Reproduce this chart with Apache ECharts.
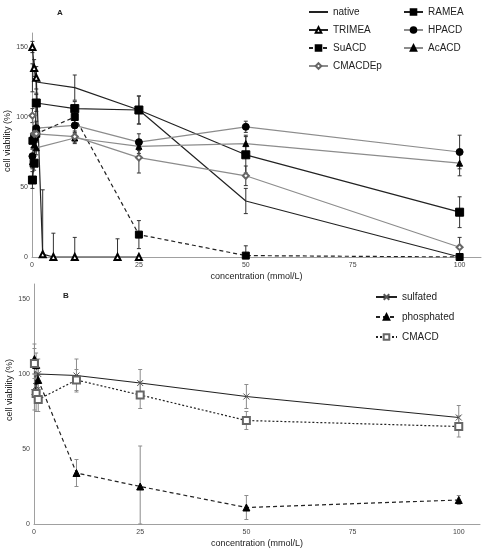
<!DOCTYPE html>
<html>
<head>
<meta charset="utf-8">
<script src="https://cdn.jsdelivr.net/npm/echarts@6/dist/echarts.min.js"></script>
<style>
  html, body { margin: 0; padding: 0; background: #fff; }
  #chart { width: 485px; height: 550px; }
</style>
</head>
<body>
<div id="chart"></div>
<script>
// panel A data (x in mmol/L, y in % viability, err = +/- bar)
const xA = [0.1, 0.5, 1, 10, 25, 50, 100];
const nativeX = [0.1, 1, 10, 25, 50, 100];
const nativeY = [128, 125, 121, 105, 40, 0];
const nativeErr = [10, 8, 9, 10, 9, 0];
const trimeaX = [0.1, 0.5, 1, 2.5, 5, 10, 20, 25];
const trimeaY = [150, 135, 128, 2, 0, 0, 0, 0];
const trimeaErr = [4, 6, 8, 46, 17, 14, 13, 0];
const rameaY = [55, 67, 110, 106, 105, 73, 32];
const rameaErr = [6, 5, 6, 5, 10, 13, 11];
const suacdY = [83, 86, 88, 100, 16, 1, 0];
const suacdErr = [5, 5, 6, 6, 10, 7, 0];
const hpacdY = [72, 84, 92, 94, 82, 93, 75];
const hpacdErr = [5, 5, 5, 6, 6, 4, 12];
const acacdY = [68, 80, 78, 85, 79, 81, 67];
const acacdErr = [5, 5, 5, 4, 5, 6, 9];
const cmacdepY = [101, 88, 88, 86, 71, 58, 7];
const cmacdepErr = [5, 5, 5, 4, 11, 7, 7];

// panel B data
const xB = [0.1, 0.5, 1, 10, 25, 50, 100];
const sulfatedY = [88, 92, 100, 99, 94, 85, 71];
const sulfatedErr = [12, 8, 10, 11, 9, 8, 8];
const phosphatedY = [110, 106, 96, 34, 25, 11, 16];
const phosphatedErr = [10, 8, 8, 9, 27, 8, 3];
const cmacdY = [107, 87, 83, 96, 86, 69, 65];
const cmacdErr = [10, 12, 8, 7, 9, 6, 7];

const xTicks = [0, 25, 50, 75, 100];
const yTicks = [0, 50, 100, 150];

const font = 'Liberation Sans, Arial, sans-serif';
const grey = '#8c8c8c';

function pairs(xs, ys) {
  return xs.map((x, i) => [x, ys[i]]);
}

function errData(xs, ys, errs) {
  return xs.map((x, i) => [x, ys[i], Math.max(0, ys[i] - errs[i]), ys[i] + errs[i]]);
}

function errSeries(xs, ys, errs, gridIdx, color) {
  return {
    type: 'custom',
    xAxisIndex: gridIdx,
    yAxisIndex: gridIdx,
    silent: true,
    z: 1,
    data: errData(xs, ys, errs),
    renderItem: function (params, api) {
      const lo = api.coord([api.value(0), api.value(2)]);
      const hi = api.coord([api.value(0), api.value(3)]);
      const w = 2;
      const style = { stroke: color, lineWidth: 1 };
      return {
        type: 'group',
        children: [
          { type: 'line', shape: { x1: hi[0], y1: hi[1], x2: lo[0], y2: lo[1] }, style: style },
          { type: 'line', shape: { x1: hi[0] - w, y1: hi[1], x2: hi[0] + w, y2: hi[1] }, style: style },
          { type: 'line', shape: { x1: lo[0] - w, y1: lo[1], x2: lo[0] + w, y2: lo[1] }, style: style }
        ]
      };
    }
  };
}

function lineSeries(name, data, gridIdx, color, type, symbol, size, symColor) {
  return {
    name: name,
    type: 'line',
    xAxisIndex: gridIdx,
    yAxisIndex: gridIdx,
    data: data,
    symbol: symbol,
    symbolSize: size,
    showSymbol: symbol !== 'none',
    z: 3,
    lineStyle: { color: color, width: 1.2, type: type },
    itemStyle: { color: symColor || '#000', borderColor: symColor || '#000', borderWidth: 1 },
    emphasis: { disabled: true },
    animation: false
  };
}

function xAxis(gridIdx, gap) {
  return {
    type: 'value',
    gridIndex: gridIdx,
    min: 0,
    max: 105,
    interval: 25,
    name: 'concentration (mmol/L)',
    nameLocation: 'middle',
    nameGap: gap,
    nameMoveOverlap: false,
    nameTextStyle: { fontFamily: font, fontSize: 9, color: '#222' },
    axisLine: { lineStyle: { color: '#a0a0a0', width: 1 } },
    axisTick: { show: false },
    splitLine: { show: false },
    axisLabel: {
      fontFamily: font, fontSize: 7, color: '#444', margin: 5,
      formatter: v => (xTicks.includes(v) ? String(v) : '')
    }
  };
}

function yAxis(gridIdx, shift) {
  return {
    type: 'value',
    gridIndex: gridIdx,
    min: 0,
    max: 160,
    interval: 50,
    name: 'cell viability (%)',
    nameLocation: 'middle',
    nameGap: 20,
    nameMoveOverlap: false,
    nameTextStyle: { fontFamily: font, fontSize: 9, color: '#222', padding: [0, 0, 0, shift] },
    axisLine: { show: true, lineStyle: { color: '#a0a0a0', width: 1 } },
    axisTick: { show: false },
    splitLine: { show: false },
    axisLabel: {
      fontFamily: font, fontSize: 7, color: '#444', margin: 4,
      formatter: v => (yTicks.includes(v) ? String(v) : '')
    }
  };
}

const legendText = { fontFamily: font, fontSize: 10, color: '#222', lineHeight: 12 };

const option = {
  backgroundColor: '#fff',
  animation: false,
  title: [
    { text: 'A', left: 52, top: 4, textStyle: { fontFamily: font, fontSize: 8, fontWeight: 'bold', color: '#222' } },
    { text: 'B', left: 58, top: 287, textStyle: { fontFamily: font, fontSize: 8, fontWeight: 'bold', color: '#222' } }
  ],
  legend: [
    {
      data: [{ name: 'native', itemStyle: { opacity: 0 } }, 'TRIMEA', 'SuACD', 'CMACDEp'],
      orient: 'vertical', left: 308, top: 6, itemGap: 6, padding: 0,
      itemWidth: 19, itemHeight: 7, textStyle: legendText, selectedMode: false
    },
    {
      data: ['RAMEA', 'HPACD', 'AcACD'],
      orient: 'vertical', left: 403, top: 6, itemGap: 6, padding: 0,
      itemWidth: 19, itemHeight: 7, textStyle: legendText, selectedMode: false
    },
    {
      data: ['sulfated', 'phosphated', 'CMACD'],
      orient: 'vertical', left: 375, top: 291, itemGap: 8, padding: 0,
      itemWidth: 21, itemHeight: 7, textStyle: legendText, selectedMode: false
    }
  ],
  grid: [
    { left: 32, right: 4, top: 33, bottom: 293, outerBoundsMode: 'none', containLabel: false },
    { left: 34, right: 5, top: 284, bottom: 26, outerBoundsMode: 'none', containLabel: false }
  ],
  xAxis: [xAxis(0, 15), xAxis(1, 15)],
  yAxis: [yAxis(0, 8), yAxis(1, 28)],
  series: [
    errSeries(nativeX, nativeY, nativeErr, 0, '#333'),
    errSeries(trimeaX, trimeaY, trimeaErr, 0, '#333'),
    errSeries(xA, rameaY, rameaErr, 0, '#333'),
    errSeries(xA, suacdY, suacdErr, 0, '#333'),
    errSeries(xA, hpacdY, hpacdErr, 0, '#333'),
    errSeries(xA, acacdY, acacdErr, 0, '#333'),
    errSeries(xA, cmacdepY, cmacdepErr, 0, '#333'),
    lineSeries('native', pairs(nativeX, nativeY), 0, '#222', 'solid', 'none', 0),
    lineSeries('RAMEA', pairs(xA, rameaY), 0, '#222', 'solid', 'rect', 8),
    lineSeries('TRIMEA', pairs(trimeaX, trimeaY), 0, '#222', 'solid', 'emptyTriangle', 6),
    lineSeries('HPACD', pairs(xA, hpacdY), 0, grey, 'solid', 'circle', 7),
    lineSeries('SuACD', pairs(xA, suacdY), 0, '#222', [4, 3], 'rect', 7),
    lineSeries('AcACD', pairs(xA, acacdY), 0, grey, 'solid', 'triangle', 6),
    lineSeries('CMACDEp', pairs(xA, cmacdepY), 0, grey, 'solid', 'emptyDiamond', 6, '#666'),

    errSeries(xB, sulfatedY, sulfatedErr, 1, grey),
    errSeries(xB, phosphatedY, phosphatedErr, 1, grey),
    errSeries(xB, cmacdY, cmacdErr, 1, grey),
    lineSeries('sulfated', pairs(xB, sulfatedY), 1, '#222', 'solid', 'path://M0 0L10 10M10 0L0 10', 6, '#555'),
    lineSeries('phosphated', pairs(xB, phosphatedY), 1, '#222', [4, 3], 'triangle', 7),
    lineSeries('CMACD', pairs(xB, cmacdY), 1, '#222', [2, 2], 'emptyRect', 7, '#666')
  ]
};

const chart = echarts.init(document.getElementById('chart'), null, { renderer: 'canvas' });
chart.setOption(option);
</script>
</body>
</html>
